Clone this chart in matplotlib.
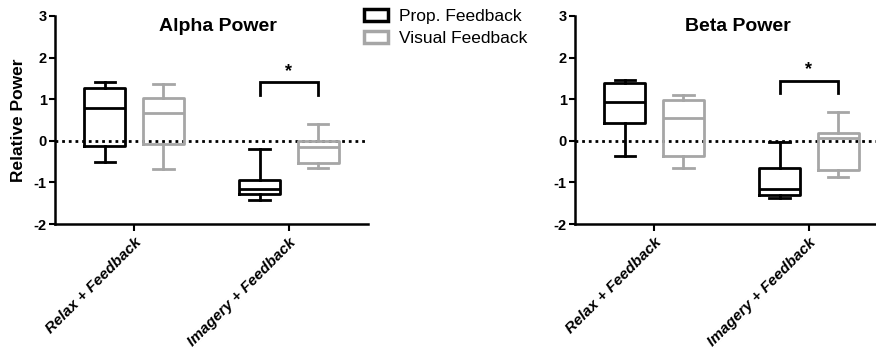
import matplotlib.pyplot as plt
from matplotlib.patches import Patch

plt.rcParams['font.family'] = ['Liberation Sans', 'DejaVu Sans']
plt.rcParams['axes.unicode_minus'] = False

conditions = ['Relax + Feedback', 'Imagery + Feedback']
groups = ['Prop. Feedback', 'Visual Feedback']
colors = ['#000000', '#a6a6a6']

# five-number summaries per condition: (whislo, q1, med, q3, whishi)
alpha_prop = [(-0.50, -0.125, 0.79, 1.28, 1.42), (-1.43, -1.28, -1.17, -0.94, -0.19)]
alpha_visual = [(-0.67, -0.08, 0.68, 1.04, 1.37), (-0.66, -0.53, -0.14, -0.01, 0.41)]
beta_prop = [(-0.37, 0.42, 0.94, 1.40, 1.47), (-1.37, -1.30, -1.17, -0.65, -0.03)]
beta_visual = [(-0.66, -0.36, 0.54, 0.98, 1.10), (-0.88, -0.70, 0.07, 0.19, 0.70)]

# significance bracket: (top, leg bottom) on the imagery condition
alpha_bracket = (1.41, 1.10)
beta_bracket = (1.44, 1.14)

W, H = 876, 349
fig = plt.figure(figsize=(W / 100, H / 100), dpi=100)


def make_stats(vals):
    lo, q1, med, q3, hi = vals
    return dict(whislo=lo, q1=q1, med=med, q3=q3, whishi=hi, fliers=[])


def panel(left_px, title, prop, visual, bracket, ylabel=None):
    ax = fig.add_axes([left_px / W, (H - 224) / H, 313 / W, 208 / H])
    off = 0.19
    for k, (data, col) in enumerate(zip([prop, visual], colors)):
        pos = [i + 1 + (off if k else -off) for i in range(len(conditions))]
        lw = 2.0
        ax.bxp([make_stats(v) for v in data], positions=pos, widths=0.26,
               showfliers=False, manage_ticks=False,
               boxprops=dict(color=col, linewidth=lw),
               medianprops=dict(color=col, linewidth=lw),
               whiskerprops=dict(color=col, linewidth=lw),
               capprops=dict(color=col, linewidth=lw))
    ax.axhline(0, color='black', linewidth=2.0, linestyle=(0, (1, 1.4)), zorder=0)

    top, leg = bracket
    x0, x1 = 2 - off, 2 + off
    ax.plot([x0, x0, x1, x1], [leg, top, top, leg], color='black', linewidth=2,
            solid_joinstyle='miter')
    ax.text(2, top + 0.06, '*', ha='center', va='bottom', fontsize=13, fontweight='bold')

    ax.set_xlim(0.49, 2.51)
    ax.set_ylim(-2, 3)
    ax.set_yticks(range(-2, 4))
    ax.set_xticks([1, 2])
    ax.set_xticklabels(conditions, rotation=45, ha='right', va='top',
                       rotation_mode='anchor', fontsize=11,
                       fontweight='bold', fontstyle='italic')
    for lab in ax.get_yticklabels():
        lab.set_fontweight('bold')
        lab.set_fontsize(10.5)
    ax.tick_params(width=1.5, length=4, pad=2)
    ax.tick_params(axis='x', length=5, pad=3)
    for s in ['top', 'right']:
        ax.spines[s].set_visible(False)
    for s in ['left', 'bottom']:
        ax.spines[s].set_linewidth(1.8)
    ax.text(0.52, 0.928, title, transform=ax.transAxes, ha='center',
            va='baseline', fontsize=14, fontweight='bold')
    if ylabel:
        ax.set_ylabel(ylabel, fontsize=12.5, fontweight='bold')
        ax.yaxis.set_label_coords(-0.093, 0.5)
    return ax


panel(55, 'Alpha Power', alpha_prop, alpha_visual, alpha_bracket, 'Relative Power')
panel(575, 'Beta Power', beta_prop, beta_visual, beta_bracket)

handles = [Patch(facecolor='white', edgecolor=c, linewidth=2.5) for c in colors]
fig.legend(handles, groups, loc='upper left', bbox_to_anchor=(364 / W, 1 - 9 / H),
           frameon=False, fontsize=12.5, handlelength=1.4, handleheight=0.7,
           handletextpad=0.6, labelspacing=0.4, borderpad=0, borderaxespad=0)

fig.savefig('out.png', dpi=100)
